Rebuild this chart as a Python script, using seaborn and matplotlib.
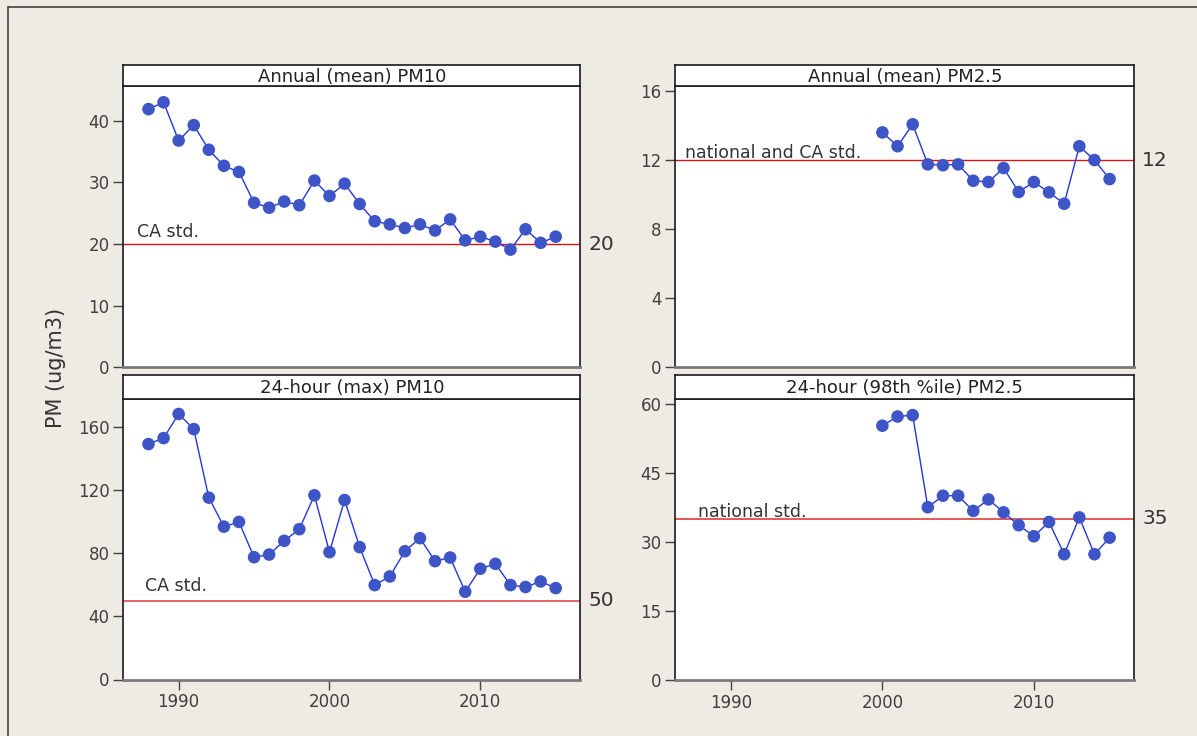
import matplotlib
matplotlib.use('Agg')
import matplotlib.pyplot as plt
import matplotlib.transforms as mtransforms
from matplotlib.lines import Line2D
import seaborn as sns

BG = '#eeeae4'
MARKER_BLUE = '#3d55c6'
LINE_BLUE = '#2436d8'
TEXT = '#333333'

YEARS_PM10 = [1988, 1989, 1990, 1991, 1992, 1993, 1994, 1995, 1996, 1997,
              1998, 1999, 2000, 2001, 2002, 2003, 2004, 2005, 2006, 2007,
              2008, 2009, 2010, 2011, 2012, 2013, 2014, 2015]
ANNUAL_PM10 = [41.9, 43.0, 36.8, 39.3, 35.3, 32.7, 31.7, 26.7, 25.9, 26.9,
               26.3, 30.3, 27.8, 29.8, 26.5, 23.7, 23.2, 22.6, 23.2, 22.2,
               24.0, 20.6, 21.2, 20.4, 19.1, 22.4, 20.2, 21.2]
MAX24_PM10 = [149.4, 153.2, 168.5, 158.9, 115.4, 97.0, 100.0, 77.6, 79.3, 88.0,
              95.4, 116.9, 80.8, 113.9, 84.0, 59.9, 65.4, 81.4, 89.7, 75.1,
              77.4, 55.7, 70.3, 73.4, 59.9, 58.7, 62.2, 58.0]

YEARS_PM25 = [2000, 2001, 2002, 2003, 2004, 2005, 2006, 2007,
              2008, 2009, 2010, 2011, 2012, 2013, 2014, 2015]
ANNUAL_PM25 = [13.6, 12.8, 14.07, 11.75, 11.7, 11.75, 10.8, 10.73,
               11.54, 10.15, 10.73, 10.13, 9.47, 12.8, 12.0, 10.9]
P98_PM25 = [55.2, 57.2, 57.5, 37.5, 40.0, 40.0, 36.7, 39.2,
            36.4, 33.6, 31.2, 34.3, 27.3, 35.3, 27.3, 30.9]

TITLES = ['Annual (mean) PM10', '24-hour (max) PM10',
          'Annual (mean) PM2.5', '24-hour (98th %ile) PM2.5']
STD_VALUES = [20, 50, 12, 35]
STD_LABELS = ['CA std.', 'CA std.', 'national and CA std.', 'national std.']
Y_TICKS = [[0, 10, 20, 30, 40], [0, 40, 80, 120, 160],
           [0, 4, 8, 12, 16], [0, 15, 30, 45, 60]]
X_TICKS = [1990, 2000, 2010]

W, H = 1197, 736


def rect(left, top, right, bottom):
    return [left / W, 1 - bottom / H, (right - left) / W, (bottom - top) / H]


sns.set_style('ticks')
plt.rcParams['font.family'] = ['DejaVu Sans']

fig = plt.figure(figsize=(W / 100, H / 100), dpi=100, facecolor=BG)

# frame of the original page (only top and left edges visible)
fig.add_artist(Line2D([8 / W, 1], [1 - 7 / H, 1 - 7 / H], color='#444444', lw=1.2))
fig.add_artist(Line2D([8 / W, 8 / W], [0, 1 - 7 / H], color='#444444', lw=1.2))

panels = [
    # plot box, header box, years, values, ylim, label x, label baseline, red, red lw, show x
    ((123.3, 86.3, 580.3, 367.3), (123.3, 65.3, 580.3, 86.3), YEARS_PM10, ANNUAL_PM10,
     45.6, 1987.25, 21.2, '#dd1010', 1.0, False),
    ((123.3, 399.0, 580.3, 679.5), (123.3, 375.0, 580.3, 399.0), YEARS_PM10, MAX24_PM10,
     178.0, 1987.75, 56.3, '#e46464', 1.4, True),
    ((675.3, 86.3, 1134.3, 367.3), (675.3, 65.3, 1134.3, 86.3), YEARS_PM25, ANNUAL_PM25,
     16.27, 1987.0, 12.1, '#dd1010', 1.0, False),
    ((675.3, 399.0, 1134.3, 680.0), (675.3, 375.0, 1134.3, 399.0), YEARS_PM25, P98_PM25,
     61.0, 1987.8, 35.45, '#e24a4a', 1.3, True),
]

for i, (box, hbox, years, vals, ytop, lx, ly, red, red_lw, show_x) in enumerate(panels):
    ax = fig.add_axes(rect(*box))
    ax.set_facecolor('white')

    sns.lineplot(x=years, y=vals, ax=ax, color=LINE_BLUE, lw=1.0, zorder=2)
    sns.scatterplot(x=years, y=vals, ax=ax, s=82, color=MARKER_BLUE,
                    edgecolor='none', linewidth=0, zorder=3, legend=False)

    std = STD_VALUES[i]
    ax.axhline(std, color=red, lw=red_lw, zorder=1)
    ax.text(lx, ly, STD_LABELS[i], fontsize=12.5, color=TEXT, ha='left', va='baseline')
    trans = mtransforms.blended_transform_factory(ax.transAxes, ax.transData)
    ax.text(1.017, std, str(std), transform=trans, fontsize=14.5, color=TEXT,
            ha='left', va='center')

    ax.set_xlim(1986.33, 2016.63)
    ax.set_ylim(0, ytop)
    ax.set_yticks(Y_TICKS[i])
    ax.set_xticks(X_TICKS)
    ax.set_xlabel('')
    ax.set_ylabel('')
    ax.tick_params(axis='y', length=7, width=1, color='#444444', labelsize=12,
                   labelcolor='#404040', pad=3)
    if show_x:
        ax.tick_params(axis='x', length=7, width=1, color='#444444', labelsize=12,
                       labelcolor='#404040', pad=3)
    else:
        ax.tick_params(axis='x', length=0, labelbottom=False)

    for side in ['left', 'right', 'top']:
        ax.spines[side].set_color('#1a1a1a')
        ax.spines[side].set_linewidth(1.2)
    ax.spines['bottom'].set_color('#7a7a7a')
    ax.spines['bottom'].set_linewidth(2.0)

    hax = fig.add_axes(rect(*hbox))
    hax.set_facecolor('white')
    hax.set_xticks([])
    hax.set_yticks([])
    for side in hax.spines:
        hax.spines[side].set_color('#1a1a1a')
        hax.spines[side].set_linewidth(1.2)
    hax.text(0.5, 0.45, TITLES[i], transform=hax.transAxes, ha='center', va='center',
             fontsize=13, color='#222222')

fig.text(56 / W, 1 - 368 / H, 'PM (ug/m3)', rotation=90, ha='center', va='center',
         fontsize=15, color=TEXT)

fig.savefig('out.png', dpi=100, facecolor=BG)
